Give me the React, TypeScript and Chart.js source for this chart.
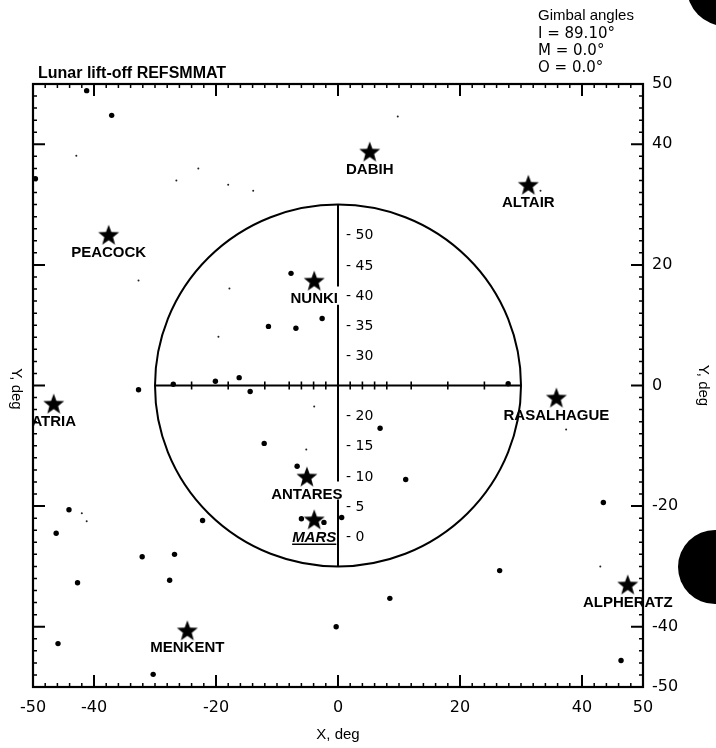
import React, { useEffect, useRef } from "react";
import { Chart, registerables } from "chart.js";

Chart.register(...registerables);

// ---- axis ticks ----
const X_TICK_VALUES = [-50, -40, -20, 0, 20, 40, 50];
const Y_TICK_VALUES = [50, 40, 20, 0, -20, -40, -50];
const MAJOR_FRAME_TICKS = [-40, -20, 0, 20, 40];
const MINOR_FRAME_TICKS = [-48, -46, -44, -42, -38, -36, -34, -32, -30, -28, -26, -24, -22, -18, -16, -14, -12, -10, -8, -6, -4, -2, 2, 4, 6, 8, 10, 12, 14, 16, 18, 22, 24, 26, 28, 30, 32, 34, 36, 38, 42, 44, 46, 48];

// ---- reticle (circle + cross) ----
const CIRCLE_RADIUS = 30;
const CROSS_TICKS = [-24, -18, -12, -8, -6, -4, -2, 2, 4, 6, 8, 12, 18, 24];
const VERTICAL_SEGMENT_TOP = [30, 13.4, -18.9];
const VERTICAL_SEGMENT_BOTTOM = [16.4, -15.9, -30];
const SCALE_LABELS = ["50", "45", "40", "35", "30", "20", "15", "10", "5", "0"];
const SCALE_LABEL_Y = [25, 20, 15, 10, 5, -5, -10, -15, -20, -25];

// ---- named stars ----
const NAMED_STARS = ["DABIH", "ALTAIR", "PEACOCK", "NUNKI", "ATRIA", "RASALHAGUE", "ANTARES", "MARS", "MENKENT", "ALPHERATZ"];
const NAMED_X = [5.2, 31.2, -37.6, -3.9, -46.6, 35.8, -5.1, -3.9, -24.7, 47.5];
const NAMED_Y = [38.8, 33.3, 25.0, 17.4, -3.0, -2.0, -15.1, -22.2, -40.6, -33.0];

// ---- other stars (dots) ----
const DOT_X = [-41.2, -37.1, -7.7, -11.4, -6.9, -2.6, -32.7, -27.0, -20.1, -16.2, -14.4, -12.1, 27.9, 6.9, -6.7, -6.0, 0.6, -44.1, -46.2, -22.2, -32.1, -26.8, -42.7, -27.6, -0.3, -45.9, -30.3, 11.1, 43.5, 26.5, 8.5, 46.4, -49.6, -2.3];
const DOT_Y = [48.9, 44.8, 18.6, 9.8, 9.5, 11.1, -0.7, 0.2, 0.7, 1.3, -1.0, -9.6, 0.3, -7.1, -13.4, -22.1, -21.9, -20.6, -24.5, -22.4, -28.4, -28.0, -32.7, -32.3, -40.0, -42.8, -47.9, -15.6, -19.4, -30.7, -35.3, -45.6, 34.3, -22.7];

// ---- faint specks ----
const SPECK_X = [-42.9, -22.9, -26.5, -18.0, -13.9, 9.8, -32.7, -17.8, -19.6, -3.9, -5.2, 43.0, 37.4, 33.2, -42.0, -41.2];
const SPECK_Y = [38.1, 36.0, 34.0, 33.3, 32.3, 44.6, 17.4, 16.1, 8.1, -3.5, -10.6, -30.0, -7.3, 32.3, -21.2, -22.5];

const HEADER = "Lunar lift-off REFSMMAT";
const GIMBAL_TITLE = "Gimbal angles";
const GIMBAL_LINES = ["I = 89.10°", "M = 0.0°", "O = 0.0°"];

function makeStar(): HTMLCanvasElement {
  const c = document.createElement("canvas");
  c.width = 24;
  c.height = 24;
  const g = c.getContext("2d")!;
  g.fillStyle = "#000";
  g.beginPath();
  for (let i = 0; i < 10; i++) {
    const r = i % 2 === 0 ? 11 : 4.6;
    const a = -Math.PI / 2 + (i * Math.PI) / 5;
    const X = 12 + r * Math.cos(a);
    const Y = 13 + r * Math.sin(a);
    if (i === 0) g.moveTo(X, Y);
    else g.lineTo(X, Y);
  }
  g.closePath();
  g.fill();
  return c;
}

const overlay = {
  id: "overlay",
  beforeDatasetsDraw(chart: any) {
    const { ctx, chartArea: a, scales } = chart;
    const px = (v: number) => scales.x.getPixelForValue(v);
    const py = (v: number) => scales.y.getPixelForValue(v);
    ctx.save();
    ctx.strokeStyle = "#000";
    ctx.fillStyle = "#000";
    ctx.lineCap = "butt";

    // frame
    ctx.lineWidth = 2.2;
    ctx.strokeRect(a.left, a.top, a.right - a.left, a.bottom - a.top);

    const ticks = (len: number, vals: number[]) => {
      vals.forEach((v) => {
        const X = px(v);
        const Y = py(v);
        ctx.beginPath();
        ctx.moveTo(X, a.top);
        ctx.lineTo(X, a.top + len);
        ctx.moveTo(X, a.bottom);
        ctx.lineTo(X, a.bottom - len);
        ctx.moveTo(a.left, Y);
        ctx.lineTo(a.left + len, Y);
        ctx.moveTo(a.right, Y);
        ctx.lineTo(a.right - len, Y);
        ctx.stroke();
      });
    };
    ctx.lineWidth = 1.5;
    ticks(4, MINOR_FRAME_TICKS);
    ctx.lineWidth = 2;
    ticks(12, MAJOR_FRAME_TICKS);

    // reticle circle
    const cx = px(0);
    const cy = py(0);
    ctx.lineWidth = 2;
    ctx.beginPath();
    ctx.ellipse(cx, cy, px(CIRCLE_RADIUS) - cx, cy - py(CIRCLE_RADIUS), 0, 0, Math.PI * 2);
    ctx.stroke();

    // horizontal line with ticks
    ctx.beginPath();
    ctx.moveTo(px(-CIRCLE_RADIUS), cy);
    ctx.lineTo(px(CIRCLE_RADIUS), cy);
    ctx.stroke();
    ctx.lineWidth = 1.6;
    CROSS_TICKS.forEach((v) => {
      ctx.beginPath();
      ctx.moveTo(px(v), cy - 4);
      ctx.lineTo(px(v), cy + 4);
      ctx.stroke();
    });

    // vertical line segments
    ctx.lineWidth = 2;
    VERTICAL_SEGMENT_TOP.forEach((t, i) => {
      ctx.beginPath();
      ctx.moveTo(cx, py(t));
      ctx.lineTo(cx, py(VERTICAL_SEGMENT_BOTTOM[i]));
      ctx.stroke();
    });

    // vertical scale labels
    ctx.font = "14px 'DejaVu Sans'";
    ctx.textAlign = "left";
    ctx.textBaseline = "middle";
    SCALE_LABELS.forEach((t, i) => {
      ctx.fillText("- " + t, cx + 8, py(SCALE_LABEL_Y[i]) + 1);
    });

    // header texts
    ctx.font = "bold 16px 'Liberation Sans'";
    ctx.fillText(HEADER, 38, 74);
    ctx.font = "15px 'Liberation Sans'";
    ctx.fillText(GIMBAL_TITLE, 538, 16);
    ctx.font = "15px 'DejaVu Sans'";
    GIMBAL_LINES.forEach((t, i) => {
      ctx.fillText(t, 538, 34 + i * 17.2);
    });

    // left axis title (rotated clockwise)
    ctx.save();
    ctx.translate(16, 389);
    ctx.rotate(Math.PI / 2);
    ctx.textAlign = "center";
    ctx.font = "15px 'Liberation Sans'";
    ctx.fillText("Y, deg", 0, 0);
    ctx.restore();

    // scan punch holes
    ctx.beginPath();
    ctx.arc(725, -12, 38, 0, Math.PI * 2);
    ctx.fill();
    ctx.beginPath();
    ctx.arc(715, 567, 37, 0, Math.PI * 2);
    ctx.fill();

    ctx.restore();
  },
  afterDatasetsDraw(chart: any) {
    const { ctx, scales } = chart;
    ctx.save();
    ctx.fillStyle = "#000";
    ctx.strokeStyle = "#000";
    ctx.textAlign = "center";
    ctx.textBaseline = "middle";
    NAMED_STARS.forEach((name, i) => {
      const X = scales.x.getPixelForValue(NAMED_X[i]);
      const Y = scales.y.getPixelForValue(NAMED_Y[i]) + 18;
      const isPlanet = name === "MARS";
      ctx.font = (isPlanet ? "italic " : "") + "bold 15px 'Liberation Sans'";
      ctx.fillText(name, X, Y);
      if (isPlanet) {
        const w = ctx.measureText(name).width;
        ctx.lineWidth = 1.5;
        ctx.beginPath();
        ctx.moveTo(X - w / 2, Y + 7);
        ctx.lineTo(X + w / 2, Y + 7);
        ctx.stroke();
      }
    });
    ctx.restore();
  },
};

export default function App() {
  const ref = useRef<HTMLCanvasElement>(null);
  useEffect(() => {
    if (!ref.current) return;
    const star = makeStar();
    const chart = new Chart(ref.current, {
      type: "scatter",
      data: {
        datasets: [
          {
            label: "Named stars",
            data: NAMED_X.map((x, i) => ({ x, y: NAMED_Y[i] })),
            pointStyle: star as any,
            backgroundColor: "#000",
            borderColor: "#000",
          },
          {
            label: "Stars",
            data: DOT_X.map((x, i) => ({ x, y: DOT_Y[i] })),
            pointRadius: 2.7,
            pointBorderWidth: 0,
            backgroundColor: "#000",
            borderColor: "#000",
          },
          {
            label: "Faint",
            data: SPECK_X.map((x, i) => ({ x, y: SPECK_Y[i] })),
            pointRadius: 1,
            pointBorderWidth: 0,
            backgroundColor: "#222",
            borderColor: "#222",
          },
        ],
      },
      options: {
        responsive: false,
        animation: false,
        layout: { padding: { left: 33, top: 84, right: 0, bottom: 0 } },
        plugins: { legend: { display: false }, tooltip: { enabled: false }, title: { display: false } },
        scales: {
          x: {
            type: "linear",
            position: "bottom",
            min: -50,
            max: 50,
            grid: { display: false, drawTicks: false },
            border: { display: false },
            afterBuildTicks: (s: any) => {
              s.ticks = X_TICK_VALUES.map((v) => ({ value: v }));
            },
            afterFit: (s: any) => {
              s.height = 61;
            },
            ticks: {
              color: "#000",
              padding: 11,
              maxRotation: 0,
              autoSkip: false,
              font: { family: "'DejaVu Sans'", size: 16 },
            },
            title: {
              display: true,
              text: "X, deg",
              color: "#000",
              font: { family: "'Liberation Sans'", size: 15 },
              padding: { top: 0, bottom: 4 },
            },
          },
          y: {
            type: "linear",
            position: "right",
            min: -50,
            max: 50,
            grid: { display: false, drawTicks: false },
            border: { display: false },
            afterBuildTicks: (s: any) => {
              s.ticks = Y_TICK_VALUES.map((v) => ({ value: v }));
            },
            afterFit: (s: any) => {
              s.width = 73;
            },
            ticks: {
              color: "#000",
              padding: 9,
              autoSkip: false,
              font: { family: "'DejaVu Sans'", size: 16 },
            },
            title: {
              display: true,
              text: "Y, deg",
              color: "#000",
              font: { family: "'Liberation Sans'", size: 15 },
              padding: { top: 4, bottom: 0 },
            },
          },
        },
      },
      plugins: [overlay],
    });
    return () => chart.destroy();
  }, []);
  return (
    <div style={{ position: "absolute", left: 0, top: 0, width: 716, height: 748, background: "#fff" }}>
      <canvas ref={ref} width={716} height={748} style={{ display: "block" }} />
    </div>
  );
}
